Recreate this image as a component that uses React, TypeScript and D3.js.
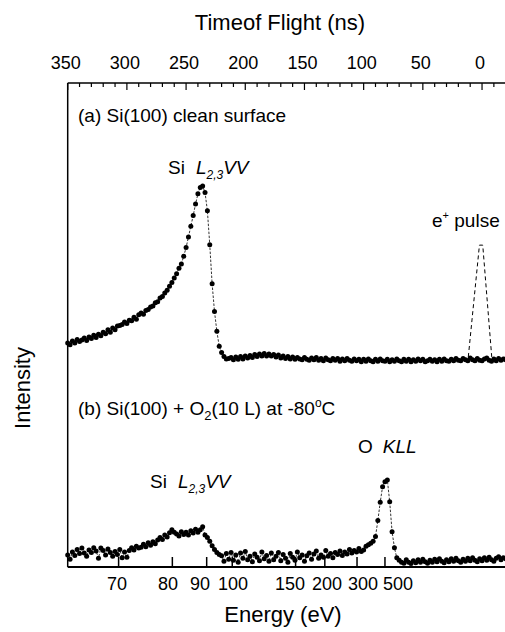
import React from "react";
import * as d3 from "d3";

// Time-of-flight channels (ns), 2 ns steps
const tofChannels: number[] = d3.range(350, -21, -2);

// (a) Si(100) clean surface, intensity (arb. units)
const seriesA: number[] = [
  46.3, 45.9, 46.7, 46.3, 47.0, 46.6, 46.9, 47.3, 46.8, 47.5,
  47.2, 47.9, 47.4, 48.1, 47.8, 48.5, 48.2, 49.0, 48.5, 49.4,
  49.0, 49.8, 49.9, 50.1, 50.6, 50.3, 51.0, 50.9, 51.6, 51.2,
  52.1, 52.5, 52.2, 53.0, 53.2, 53.7, 53.9, 54.6, 54.8, 55.6,
  55.9, 56.6, 57.2, 58.0, 58.8, 59.7, 60.6, 61.7, 62.6, 64.2,
  66.0, 68.2, 70.4, 72.6, 75.0, 77.1, 78.4, 78.7, 77.4, 73.6,
  66.6, 58.5, 52.8, 48.7, 45.6, 44.3, 43.5, 43.0, 43.1, 43.3,
  42.8, 43.4, 42.9, 43.5, 43.0, 43.6, 43.2, 43.7, 43.3, 43.9,
  43.5, 44.0, 43.6, 44.1, 43.6, 44.0, 43.6, 43.9, 43.4, 43.8,
  43.2, 43.6, 43.1, 43.5, 43.0, 43.4, 42.9, 43.3, 43.0, 42.8,
  43.3, 42.9, 42.7, 43.2, 42.8, 43.3, 42.7, 43.1, 42.6, 43.2,
  42.8, 42.6, 43.1, 42.7, 43.1, 42.5, 43.0, 42.6, 43.1, 42.7,
  42.5, 43.0, 42.6, 42.9, 42.4, 42.9, 42.5, 43.0, 42.6, 42.4,
  42.9, 42.5, 43.0, 42.6, 42.5, 42.9, 42.4, 42.8, 42.5, 43.0,
  42.6, 42.4, 42.9, 42.5, 42.9, 42.4, 42.8, 42.5, 43.0, 42.6,
  42.9, 42.4, 42.6, 42.9, 42.5, 42.8, 42.4, 42.9, 42.5, 43.0,
  42.6, 42.5, 42.9, 42.6, 43.1, 42.7, 42.6, 43.1, 42.8, 42.6,
  43.2, 42.8, 42.6, 43.1, 42.7, 42.6, 43.0, 43.2, 42.7, 42.5,
  43.0, 42.6, 43.1, 42.7, 43.0, 42.8,
];

// (b) Si(100) + O2 (10 L) at -80 C
const seriesB: number[] = [
  2.5, 1.6, 3.1, 2.4, 3.6, 2.8, 3.9, 2.9, 2.2, 3.5,
  3.0, 4.0, 3.3, 1.8, 3.9, 3.4, 2.5, 3.7, 3.0, 2.2,
  3.2, 2.6, 3.6, 1.9, 3.1, 2.0, 3.4, 4.0, 3.5, 4.3,
  3.9, 4.1, 4.7, 4.2, 5.0, 4.5, 5.2, 4.8, 5.6, 6.1,
  5.7, 6.6, 6.2, 7.1, 7.7, 7.2, 6.8, 6.4, 7.3, 6.7,
  7.2, 6.6, 7.5, 7.0, 7.8, 7.2, 7.7, 8.3, 6.6, 6.1,
  5.3, 4.4, 3.6, 3.0, 2.6,
  2.3, 1.2, 2.8, 1.6, 3.0, 1.4, 2.5, 1.0, 2.9, 1.8,
  3.2, 1.5, 2.2, 1.1, 2.7, 2.0, 1.3, 3.1, 1.7, 2.4,
  1.2, 2.9, 1.5, 2.2, 3.0, 1.3, 2.6, 1.8, 1.0, 2.8,
  2.0, 1.4, 3.1, 1.9, 2.5, 1.2, 2.3, 2.9, 1.6, 2.7,
  3.3, 1.8, 2.5, 2.0, 3.4, 2.2, 2.8, 1.9, 3.0, 2.6,
  3.3, 2.4, 3.1, 2.7, 3.6, 2.9, 3.4, 3.1, 3.8, 3.2, 3.5,
  4.3, 4.6, 4.9, 5.3, 6.3, 9.6, 13.4, 16.6, 17.6, 18.0, 13.5, 7.3, 4.0, 1.9,
  1.4, 1.0, 0.8, 1.5, 1.0, 0.7, 1.3, 0.9, 1.5, 1.0,
  1.6, 1.1, 0.8, 1.4, 1.0, 1.6, 1.1, 1.7, 1.2, 0.9,
  1.5, 1.1, 1.7, 1.2, 1.8, 1.3, 1.0, 1.6, 1.2, 1.8,
  1.3, 1.9, 1.4, 1.1, 1.7, 1.3, 1.9, 1.4, 2.0, 1.5,
  1.2, 1.8, 2.1, 1.5, 1.9, 1.7,
];

// e+ pulse (dashed)
const pulseTof: number[] = [11.6, 2.2, -0.6, -8.2];
const pulseI: number[] = [43.4, 66.5, 66.5, 43.4];

// Top axis: time of flight
const tofMajor: number[] = [350, 300, 250, 200, 150, 100, 50, 0];
const tofMinor: number[] = d3.range(350, -20, -10);

// Bottom axis: energy (non-linear, calibrated to TOF)
const energyTicks: number[] = [70, 80, 90, 100, 150, 200, 300, 500];
const energyTickTof: number[] = [307, 261.6, 232.6, 211, 157.5, 132.8, 105.6, 82];
const energyLabelTof: number[] = [308.4, 265.3, 238.2, 210.4, 162.2, 130.9, 100.5, 71];

const W = 505;
const H = 632;
const FONT = "'Liberation Sans', Arial, Helvetica, sans-serif";

export default function App() {
  const left = 67.7;
  const right = 505;
  const top = 83;
  const bottom = 567;

  const x = d3.scaleLinear().domain([350, -19.4]).range([left, right]);
  const y = d3.scaleLinear().domain([0, 100]).range([bottom, top]);

  const ptsA = tofChannels.map((t, i) => [t, seriesA[i]] as [number, number]).filter((d) => d[1] !== undefined);
  const ptsB = tofChannels.map((t, i) => [t, seriesB[i]] as [number, number]).filter((d) => d[1] !== undefined);

  const line = d3
    .line<[number, number]>()
    .x((d) => x(d[0]))
    .y((d) => y(d[1]));

  const pulse = pulseTof.map((t, i) => [t, pulseI[i]] as [number, number]);

  const eTick = d3.scaleLinear().domain(energyTicks).range(energyTickTof);

  return (
    <svg
      width={W}
      height={H}
      viewBox={`0 0 ${W} ${H}`}
      style={{ position: "absolute", left: 0, top: 0, background: "#fff" }}
      fontFamily={FONT}
    >
      <rect x={0} y={0} width={W} height={H} fill="#fff" />
      {/* Frame */}
      <line x1={left} x2={right} y1={top} y2={top} stroke="#000" strokeWidth={1.5} />
      <line x1={left} x2={right} y1={bottom} y2={bottom} stroke="#000" strokeWidth={1.8} />
      <line x1={left} x2={left} y1={top} y2={bottom} stroke="#000" strokeWidth={1.5} />

      {/* Top axis ticks */}
      {tofMinor.map((t) => (
        <line
          key={"tm" + t}
          x1={x(t)}
          x2={x(t)}
          y1={top}
          y2={top + (t % 50 === 0 ? 7 : 4)}
          stroke="#000"
          strokeWidth={1.2}
        />
      ))}
      {tofMajor.map((t) => (
        <text key={"tl" + t} x={x(t) - 2} y={69} fontSize={18} textAnchor="middle" fill="#000">
          {t}
        </text>
      ))}
      <text x={280} y={30} fontSize={22} textAnchor="middle" fill="#000">
        Timeof Flight (ns)
      </text>

      {/* Bottom energy ticks */}
      {energyTicks.map((e) => (
        <line
          key={"et" + e}
          x1={x(eTick(e))}
          x2={x(eTick(e))}
          y1={bottom}
          y2={bottom - 10}
          stroke="#000"
          strokeWidth={1.5}
        />
      ))}
      {energyTicks.map((e, i) => (
        <text key={"el" + e} x={x(energyLabelTof[i])} y={590} fontSize={18} textAnchor="middle" fill="#000">
          {e}
        </text>
      ))}
      <text x={283} y={622} fontSize={22} textAnchor="middle" fill="#000">
        Energy (eV)
      </text>
      <text
        transform={`translate(30,388) rotate(-90)`}
        fontSize={22}
        textAnchor="middle"
        fill="#000"
      >
        Intensity
      </text>

      {/* Spectra */}
      <path d={line(ptsA) || ""} fill="none" stroke="#000" strokeWidth={0.8} strokeDasharray="2.5,1.5" />
      {ptsA.map((d, i) => (
        <circle key={"a" + i} cx={x(d[0])} cy={y(d[1])} r={2.5} fill="#000" />
      ))}
      <path d={line(ptsB) || ""} fill="none" stroke="#000" strokeWidth={0.8} strokeDasharray="2.5,1.5" />
      {ptsB.map((d, i) => (
        <circle key={"b" + i} cx={x(d[0])} cy={y(d[1])} r={2.5} fill="#000" />
      ))}
      <path d={line(pulse) || ""} fill="none" stroke="#000" strokeWidth={1} strokeDasharray="4,3" />

      {/* Labels */}
      <text x={78} y={122} fontSize={19} fill="#000">
        (a) Si(100) clean surface
      </text>
      <text x={78} y={415} fontSize={19} fill="#000">
        (b) Si(100) + O
        <tspan fontSize={13} dy={5}>2</tspan>
        <tspan dy={-5}>(10 L) at -80</tspan>
        <tspan fontSize={12} dy={-8}>o</tspan>
        <tspan dy={8}>C</tspan>
      </text>

      <text x={168} y={174} fontSize={19} fill="#000">
        Si
        <tspan dx={11} fontStyle="italic">L</tspan>
        <tspan fontSize={12} dy={5} fontStyle="italic">2,3</tspan>
        <tspan dy={-5} fontStyle="italic">VV</tspan>
      </text>
      <text x={150} y={488} fontSize={19} fill="#000">
        Si
        <tspan dx={11} fontStyle="italic">L</tspan>
        <tspan fontSize={12} dy={5} fontStyle="italic">2,3</tspan>
        <tspan dy={-5} fontStyle="italic">VV</tspan>
      </text>
      <text x={358} y={453} fontSize={19} fill="#000">
        O
        <tspan dx={10} fontStyle="italic">KLL</tspan>
      </text>
      <text x={432} y={227} fontSize={19} fill="#000">
        e<tspan fontSize={11} dy={-8}>+</tspan>
        <tspan dy={8}> pulse</tspan>
      </text>
    </svg>
  );
}
